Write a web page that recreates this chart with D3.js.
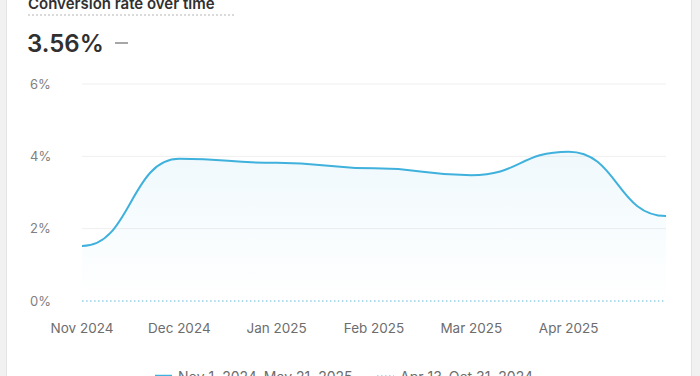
<!DOCTYPE html>
<html>
<head>
<meta charset="utf-8">
<script src="https://cdn.jsdelivr.net/npm/d3@7"></script>
<style>
  body { margin: 0; background: #f1f1f1; font-family: Inter, "Noto Sans", sans-serif; }
  svg { display: block; }
</style>
</head>
<body>
<svg width="700" height="376"></svg>
<script>
// monthly conversion rate (%), Nov 2024 - May 2025
var months = ["Nov 2024", "Dec 2024", "Jan 2025", "Feb 2025", "Mar 2025", "Apr 2025", "May 2025"];
var currentRate = [1.52, 3.93, 3.82, 3.67, 3.48, 4.13, 2.35];
var previousRate = [0, 0, 0, 0, 0, 0, 0];
var yTicks = [0, 2, 4, 6];
var tickLabels = ["Nov 2024", "Dec 2024", "Jan 2025", "Feb 2025", "Mar 2025", "Apr 2025"];
var legendLabels = ["Nov 1, 2024–May 21, 2025", "Apr 13–Oct 31, 2024"];

var svg = d3.select("svg"),
  width = +svg.attr("width"),
  height = +svg.attr("height");

var lineColor = "#3fb1dc";

// card
svg.append("rect")
  .attr("x", 6.5).attr("y", -20)
  .attr("width", 685).attr("height", 420)
  .attr("rx", 10)
  .attr("fill", "#fff")
  .attr("stroke", "#e3e3e3");

// header
svg.append("text")
  .attr("x", 28).attr("y", 9)
  .attr("font-size", 15).attr("font-weight", 600)
  .attr("fill", "#303030")
  .text("Conversion rate over time");

svg.append("line")
  .attr("x1", 28).attr("x2", 235)
  .attr("y1", 15).attr("y2", 15)
  .attr("stroke", "#b5b5b5")
  .attr("stroke-dasharray", "2,2");

svg.append("text")
  .attr("x", 27).attr("y", 52)
  .attr("font-size", 24).attr("font-weight", 600)
  .attr("fill", "#303030")
  .text("3.56%");

svg.append("line")
  .attr("x1", 115).attr("x2", 128)
  .attr("y1", 43).attr("y2", 43)
  .attr("stroke", "#8a8a8a")
  .attr("stroke-width", 1.5);

var x = d3.scalePoint()
  .domain(months)
  .range([82, 666]);

var y = d3.scaleLinear()
  .domain([0, 6])
  .range([301, 84]);

// gridlines
svg.append("g")
  .selectAll("line")
  .data(yTicks.filter(function(d) { return d > 0; }))
  .enter().append("line")
  .attr("x1", 82).attr("x2", 666)
  .attr("y1", function(d) { return y(d); })
  .attr("y2", function(d) { return y(d); })
  .attr("stroke", "#efefef");

// y labels
svg.append("g")
  .selectAll("text")
  .data(yTicks)
  .enter().append("text")
  .attr("x", 30)
  .attr("y", function(d) { return y(d) + 4.5; })
  .attr("font-size", 13)
  .attr("fill", "#808080")
  .text(function(d) { return d + "%"; });

// x labels
svg.append("g")
  .selectAll("text")
  .data(tickLabels)
  .enter().append("text")
  .attr("x", function(d) { return x(d); })
  .attr("y", 333)
  .attr("text-anchor", "middle")
  .attr("font-size", 13.5)
  .attr("fill", "#6d6d6d")
  .text(function(d) { return d; });

var grad = svg.append("defs").append("linearGradient")
  .attr("id", "fade")
  .attr("gradientUnits", "userSpaceOnUse")
  .attr("x1", 0).attr("x2", 0)
  .attr("y1", y(4.2)).attr("y2", y(0));
grad.append("stop").attr("offset", 0).attr("stop-color", lineColor).attr("stop-opacity", 0.08);
grad.append("stop").attr("offset", 1).attr("stop-color", lineColor).attr("stop-opacity", 0.0);

var area = d3.area()
  .x(function(d, i) { return x(months[i]); })
  .y0(y(0))
  .y1(function(d) { return y(d); })
  .curve(d3.curveBumpX);

var line = d3.line()
  .x(function(d, i) { return x(months[i]); })
  .y(function(d) { return y(d); })
  .curve(d3.curveBumpX);

svg.append("path")
  .datum(currentRate)
  .attr("d", area)
  .attr("fill", "url(#fade)");

// comparison period (dotted)
svg.append("path")
  .datum(previousRate)
  .attr("d", line)
  .attr("fill", "none")
  .attr("stroke", "#93cfe6")
  .attr("stroke-width", 1.5)
  .attr("stroke-dasharray", "1.5,2.5");

svg.append("path")
  .datum(currentRate)
  .attr("d", line)
  .attr("fill", "none")
  .attr("stroke", lineColor)
  .attr("stroke-width", 2);

// legend
var legend = svg.append("g");
legend.append("line")
  .attr("x1", 155).attr("x2", 172)
  .attr("y1", 376).attr("y2", 376)
  .attr("stroke", lineColor)
  .attr("stroke-width", 2.5);
legend.append("text")
  .attr("x", 178).attr("y", 382)
  .attr("font-size", 14)
  .attr("fill", "#6d6d6d")
  .text(legendLabels[0]);
legend.append("line")
  .attr("x1", 377).attr("x2", 394)
  .attr("y1", 376).attr("y2", 376)
  .attr("stroke", "#93cfe6")
  .attr("stroke-width", 1.5)
  .attr("stroke-dasharray", "1.5,2.5");
legend.append("text")
  .attr("x", 400).attr("y", 382)
  .attr("font-size", 14)
  .attr("fill", "#6d6d6d")
  .text(legendLabels[1]);
</script>
</body>
</html>
